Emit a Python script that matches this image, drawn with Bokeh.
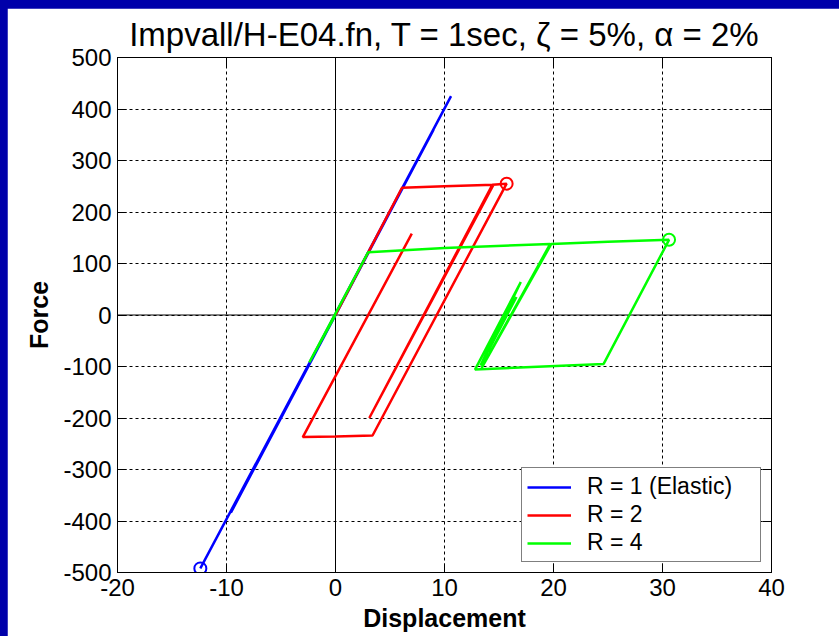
from bokeh.plotting import figure
from bokeh.models import FixedTicker, LinearAxis, Span, Legend, Range1d, Title
from bokeh.layouts import column
from bokeh.embed import file_html
from bokeh.resources import INLINE

# ---------------- data ----------------
disp_r1 = [0.0, -2.4, 3.1, -4.5, 5.8, -7.2, 8.4, -9.6, 10.6, -12.4, 9.0, -7.5, 6.0, -4.0, 3.0]
force_r1 = [0, -95, 125, -180, 232, -288, 337, -384, 425, -492, 360, -300, 240, -160, 120]

disp_r2 = [0.0, 6.1, 10.0, 14.5, 3.1, 14.4, 15.7, 3.4, 0.0, -3.0, 7.0]
force_r2 = [0, 247, 250, 253, -200, 253, 255, -234, -236, -237, 158]

disp_r4 = [0.0, -2.4, 3.0, 10.0, 19.7, 13.4, 19.8, 25.0, 30.6, 24.6, 18.0, 12.8,
           17.0, 13.3, 16.6, 14.0, 15.6]
force_r4 = [0, -92, 122, 130, 138, -103, 138, 142, 146, -95, -101, -106,
            64, -98, 35, -70, -5]

x_ticks = [-20, -10, 0, 10, 20, 30, 40]
y_ticks = [-500, -400, -300, -200, -100, 0, 100, 200, 300, 400, 500]

series_names = ["R = 1 (Elastic)", "R = 2", "R = 4"]
series_colors = ["#0000FF", "#FF0000", "#00FF00"]
series_disp = [disp_r1, disp_r2, disp_r4]
series_force = [force_r1, force_r2, force_r4]

title_text = "Impvall/H-E04.fn, T = 1sec, \u03b6 = 5%, \u03b1 = 2%"

FONT = "Liberation Sans"

p = figure(width=832, height=628,
           x_range=Range1d(-20, 40), y_range=Range1d(-500, 500),
           output_backend="svg", toolbar_location=None,
           min_border_left=110, min_border_right=68,
           min_border_top=49, min_border_bottom=64)
p.title = Title(text=title_text, align="center", text_font=FONT,
                text_font_size="33px", text_font_style="normal",
                text_color="black", offset=-4, standoff=9)
p.margin = (8, 0, 0, 7)
p.background_fill_color = "white"
p.border_fill_color = "white"
p.outline_line_color = "black"
p.outline_line_width = 1

# axes
for ax in (p.xaxis[0], p.yaxis[0]):
    ax.major_tick_in = 9
    ax.major_tick_out = 0
    ax.minor_tick_line_color = None
    ax.axis_line_color = "black"
    ax.major_tick_line_color = "black"
    ax.major_label_text_font = FONT
    ax.major_label_text_font_size = "24px"
    ax.major_label_text_color = "black"
    ax.axis_label_text_font = FONT
    ax.axis_label_text_font_style = "bold"
    ax.axis_label_text_font_size = "25px"
    ax.axis_label_text_color = "black"

p.xaxis.ticker = FixedTicker(ticks=x_ticks)
p.yaxis.ticker = FixedTicker(ticks=y_ticks)
p.xaxis.major_label_overrides = {v: str(v) for v in x_ticks}
p.yaxis.major_label_overrides = {v: str(v) for v in y_ticks}
p.xaxis.axis_label = "Displacement"
p.yaxis.axis_label = "Force"
p.xaxis.major_label_standoff = 6
p.yaxis.major_label_standoff = 6
p.xaxis.axis_label_standoff = 5
p.yaxis.axis_label_standoff = 7

# mirrored axes (ticks only) on top and right
top_ax = LinearAxis(ticker=FixedTicker(ticks=x_ticks))
right_ax = LinearAxis(ticker=FixedTicker(ticks=y_ticks))
for ax in (top_ax, right_ax):
    ax.major_tick_in = 9
    ax.major_tick_out = 0
    ax.minor_tick_line_color = None
    ax.axis_line_color = "black"
    ax.major_tick_line_color = "black"
    ax.major_label_text_font_size = "1px"
    ax.major_label_text_alpha = 0
    ax.major_label_standoff = 0
p.add_layout(top_ax, "above")
p.add_layout(right_ax, "right")

# grid
p.grid.grid_line_color = "black"
p.grid.grid_line_dash = "3 3"
p.grid.grid_line_width = 1
p.xgrid.ticker = FixedTicker(ticks=x_ticks)
p.ygrid.ticker = FixedTicker(ticks=y_ticks)

p.add_layout(Span(location=0, dimension="height", line_color="black", line_width=1, level="underlay"))
p.add_layout(Span(location=0, dimension="width", line_color="black", line_width=1, level="underlay"))

# data
items = []
for name, d, f, c in zip(series_names, series_disp, series_force, series_colors):
    r = p.line(d, f, line_color=c, line_width=2.5)
    k = max(range(len(d)), key=lambda i: abs(d[i]))
    p.scatter([d[k]], [f[k]], marker="circle", size=12, fill_color=None,
              line_color=c, line_width=2)
    items.append((name, [r]))

legend = Legend(items=items, location=(404, 10))
legend.border_line_color = "black"
legend.border_line_width = 1
legend.background_fill_color = "white"
legend.background_fill_alpha = 1
legend.label_text_font = FONT
legend.label_text_font_size = "23px"
legend.label_text_color = "black"
legend.glyph_width = 44
legend.glyph_height = 20
legend.label_standoff = 16
legend.label_width = 168
legend.spacing = 1
legend.padding = 5
legend.margin = 0
p.add_layout(legend)

layout = column(p, styles={"background-color": "#0000AA"})

open("out.html", "w").write(file_html(layout, INLINE))
